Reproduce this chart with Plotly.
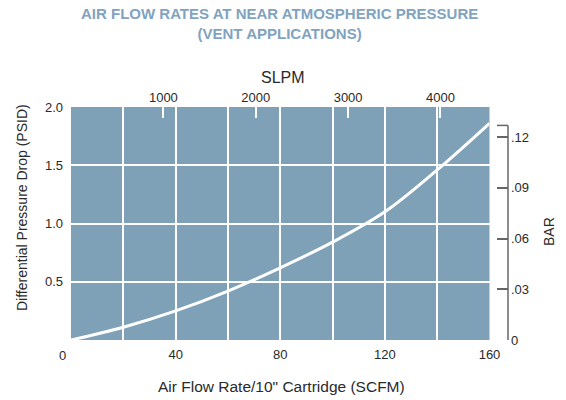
import plotly.graph_objects as go

# Flow vs. pressure drop for a 10" cartridge (vent service)
scfm = [0, 20, 40, 60, 80, 100, 120, 140, 160]
psid = [0, 0.11, 0.25, 0.42, 0.62, 0.84, 1.10, 1.46, 1.86]

x_ticks = [40, 80, 120, 160]
y_ticks = [0.5, 1.0, 1.5, 2.0]
slpm_ticks = [1000, 2000, 3000, 4000]
bar_ticks = [0, 0.03, 0.06, 0.09, 0.12]
bar_labels = ["0", ".03", ".06", ".09", ".12"]

LPM_PER_CFM = 28.3168
PSI_PER_BAR = 14.5038
X_MAX, Y_MAX = 160, 2.0

W, H = 566, 400
ML, MR, MT, MB = 71, 30, 107, 60
PW, PH = W - ML - MR, H - MT - MB


def px(x):
    return (x - ML) / PW


def py(y):
    return (H - MB - y) / PH


FONT = "Liberation Sans, Arial, sans-serif"
TXT = "#2a2a2a"
BG = "#7ea1b8"
X_DOM_END = px(489.5)
BAR_POS = px(508)

fig = go.Figure()
fig.add_trace(go.Scatter(
    x=scfm, y=psid, mode="lines", line=dict(color="white", width=3, shape="spline"),
    hoverinfo="skip", showlegend=False,
))

fig.update_layout(
    width=W, height=H, margin=dict(l=ML, r=MR, t=MT, b=MB),
    paper_bgcolor="white", plot_bgcolor=BG,
    font=dict(family=FONT, color=TXT, size=13),
    xaxis=dict(
        domain=[0, X_DOM_END], range=[0, X_MAX], tickvals=x_ticks,
        showgrid=True, gridcolor="white", gridwidth=2,
        zeroline=False, showline=False, ticks="",
        ticklabelstandoff=5,
        minor=dict(dtick=20, tick0=0, showgrid=True, gridcolor="white", gridwidth=2),
    ),
    yaxis=dict(
        range=[0, Y_MAX], tickvals=y_ticks, ticktext=["0.5", "1.0", "1.5", "2.0"],
        showgrid=True, gridcolor="white", gridwidth=2, zeroline=False,
        showline=False, ticks="", ticklabelstandoff=7,
    ),
    xaxis2=dict(
        overlaying="x", side="top", domain=[0, X_DOM_END],
        range=[0, X_MAX * LPM_PER_CFM], tickvals=slpm_ticks,
        ticks="inside", ticklen=11, tickwidth=1.5, tickcolor="white",
        showgrid=False, zeroline=False, showline=False, anchor="y",
        ticklabelstandoff=1,
    ),
    yaxis2=dict(
        overlaying="y", side="right", anchor="free", position=BAR_POS,
        range=[0, Y_MAX / PSI_PER_BAR], tickvals=bar_ticks, ticktext=bar_labels,
        ticks="inside", ticklen=11, tickwidth=1.5, tickcolor="#666666",
        showgrid=False, zeroline=False, showline=False, ticklabelstandoff=2,
    ),
)

# invisible trace to activate the secondary axes
fig.add_trace(go.Scatter(x=[None], y=[None], xaxis="x2", yaxis="y2",
                         showlegend=False, hoverinfo="skip"))

# BAR axis spine with a hook at its upper end
bar_top = 0.127
fig.add_shape(type="line", xref="paper", yref="y2", x0=BAR_POS, x1=BAR_POS,
              y0=0, y1=bar_top, line=dict(color="#666666", width=1.5))
fig.add_shape(type="line", xref="paper", yref="y2", x0=px(497), x1=BAR_POS,
              y0=bar_top, y1=bar_top, line=dict(color="#666666", width=1.5))

ann = [
    dict(text="<b>AIR FLOW RATES AT NEAR ATMOSPHERIC PRESSURE<br>(VENT APPLICATIONS)</b>",
         x=px(279), y=py(24), font=dict(size=15, color="#7fa3c0")),
    dict(text="SLPM", x=px(283), y=py(78), font=dict(size=16)),
    dict(text="Air Flow Rate/10\" Cartridge (SCFM)", x=px(281), y=py(386), font=dict(size=15.5)),
    dict(text="Differential Pressure Drop (PSID)", x=px(22), y=py(208), textangle=-90,
         font=dict(size=14)),
    dict(text="BAR", x=px(549), y=py(232), textangle=-90, font=dict(size=14)),
    dict(text="0", x=px(62), y=py(355), font=dict(size=13)),
]
for a in ann:
    fig.add_annotation(xref="paper", yref="paper", showarrow=False,
                       xanchor="center", yanchor="middle", **a)

fig.write_html("out.html")
